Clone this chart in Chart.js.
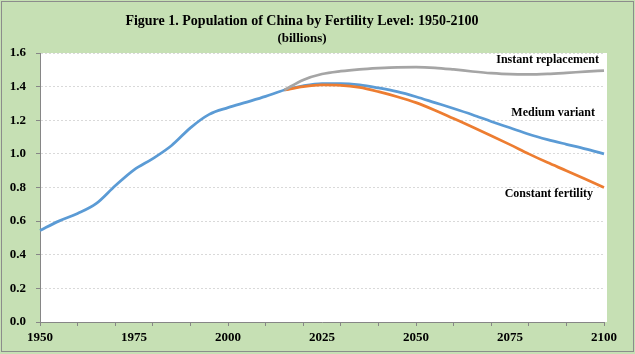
<!DOCTYPE html>
<html>
<head>
<meta charset="utf-8">
<title>Population of China by Fertility Level: 1950-2100</title>
<script src="https://cdn.jsdelivr.net/npm/chart.js@4/dist/chart.umd.min.js"></script>
<style>
  body { margin: 0; padding: 0; background: #fff; }
  canvas { display: block; }
</style>
</head>
<body>
<canvas id="chart" width="635" height="354"></canvas>
<script>
// data, billions, every 5 years
const years = [1950, 1955, 1960, 1965, 1970, 1975, 1980, 1985, 1990, 1995,
               2000, 2005, 2010, 2015, 2020, 2025, 2030, 2035, 2040, 2045,
               2050, 2055, 2060, 2065, 2070, 2075, 2080, 2085, 2090, 2095, 2100];
const medium = [0.544, 0.600, 0.645, 0.705, 0.810, 0.905, 0.972, 1.050, 1.155, 1.235,
                1.275, 1.308, 1.342, 1.380, 1.405, 1.418, 1.418, 1.410, 1.392, 1.370,
                1.340, 1.305, 1.270, 1.233, 1.193, 1.155, 1.117, 1.085, 1.057, 1.030, 1.000];
const constantFert = [null, null, null, null, null, null, null, null, null, null,
                      null, null, null, 1.380, 1.400, 1.410, 1.408, 1.395, 1.370, 1.340,
                      1.305, 1.260, 1.210, 1.160, 1.108, 1.055, 1.000, 0.948, 0.900, 0.850, 0.800];
const instant = [null, null, null, null, null, null, null, null, null, null,
                 null, null, null, 1.380, 1.440, 1.475, 1.492, 1.503, 1.510, 1.515,
                 1.516, 1.512, 1.502, 1.490, 1.480, 1.474, 1.473, 1.476, 1.482, 1.489, 1.495];
const xTickLabels = [1950, 1975, 2000, 2025, 2050, 2075, 2100];

const seriesLabels = [
  { text: 'Instant replacement', x: 599, y: 60 },
  { text: 'Medium variant', x: 595, y: 113 },
  { text: 'Constant fertility', x: 593, y: 194 }
];

const serif = "'Liberation Serif', 'Times New Roman', serif";
Chart.defaults.font.family = serif;
Chart.defaults.color = '#000';

const frame = {
  id: 'frame',
  beforeDraw(chart) {
    const ctx = chart.ctx, a = chart.chartArea;
    ctx.save();
    ctx.fillStyle = '#c6e0b4';
    ctx.fillRect(0, 0, chart.width, chart.height);
    ctx.strokeStyle = '#8c8c8c';
    ctx.lineWidth = 1;
    ctx.strokeRect(1.5, 1.5, chart.width - 3, chart.height - 4);
    ctx.fillStyle = '#fff';
    ctx.fillRect(a.left, a.top, a.right - a.left + 3, a.bottom - a.top);
    ctx.restore();
  },
  afterDatasetsDraw(chart) {
    const ctx = chart.ctx;
    ctx.save();
    ctx.font = 'bold 12px ' + serif;
    ctx.fillStyle = '#000';
    ctx.textAlign = 'right';
    ctx.textBaseline = 'middle';
    seriesLabels.forEach(l => ctx.fillText(l.text, l.x, l.y));
    ctx.restore();
  }
};

new Chart(document.getElementById('chart'), {
  type: 'line',
  data: {
    labels: years,
    datasets: [
      { label: 'Instant replacement', data: instant, borderColor: '#a5a5a5' },
      { label: 'Constant fertility', data: constantFert, borderColor: '#ed7d31' },
      { label: 'Medium variant', data: medium, borderColor: '#5b9bd5' }
    ]
  },
  options: {
    responsive: false,
    animation: false,
    elements: {
      point: { radius: 0 },
      line: { borderWidth: 2.75, tension: 0.3, cubicInterpolationMode: 'monotone' }
    },
    layout: { padding: { left: 0, right: 31, top: 0, bottom: 0 } },
    plugins: {
      legend: { display: false },
      tooltip: { enabled: false },
      title: {
        display: true,
        text: 'Figure 1. Population of China by Fertility Level: 1950-2100',
        font: { size: 14, weight: 'bold' },
        padding: { top: 12.6, bottom: 1.8 }
      },
      subtitle: {
        display: true,
        text: '(billions)',
        color: '#000',
        font: { size: 13, weight: 'bold' },
        padding: { top: 0, bottom: 6.2 }
      }
    },
    scales: {
      x: {
        type: 'category',
        offset: false,
        grid: {
          drawOnChartArea: false,
          tickLength: 4,
          tickColor: c => (years[c.index] % 10 === 0 ? '#868686' : 'rgba(0,0,0,0)')
        },
        border: { color: '#868686', width: 1 },
        ticks: {
          autoSkip: false,
          maxRotation: 0,
          padding: 4,
          font: { size: 13, weight: 'bold' },
          callback: (v, i) => (xTickLabels.includes(years[i]) ? String(years[i]) : '')
        },
        afterFit: s => { s.height = 32; }
      },
      y: {
        min: 0,
        max: 1.6,
        grid: { color: '#d9d9d9', tickLength: 4, tickColor: '#868686' },
        border: { color: '#868686', width: 1, dash: [2, 2] },
        ticks: {
          stepSize: 0.2,
          padding: 10,
          font: { size: 13, weight: 'bold' },
          callback: v => v.toFixed(1)
        },
        afterFit: s => { s.width = 40; }
      }
    }
  },
  plugins: [frame]
});
</script>
</body>
</html>
